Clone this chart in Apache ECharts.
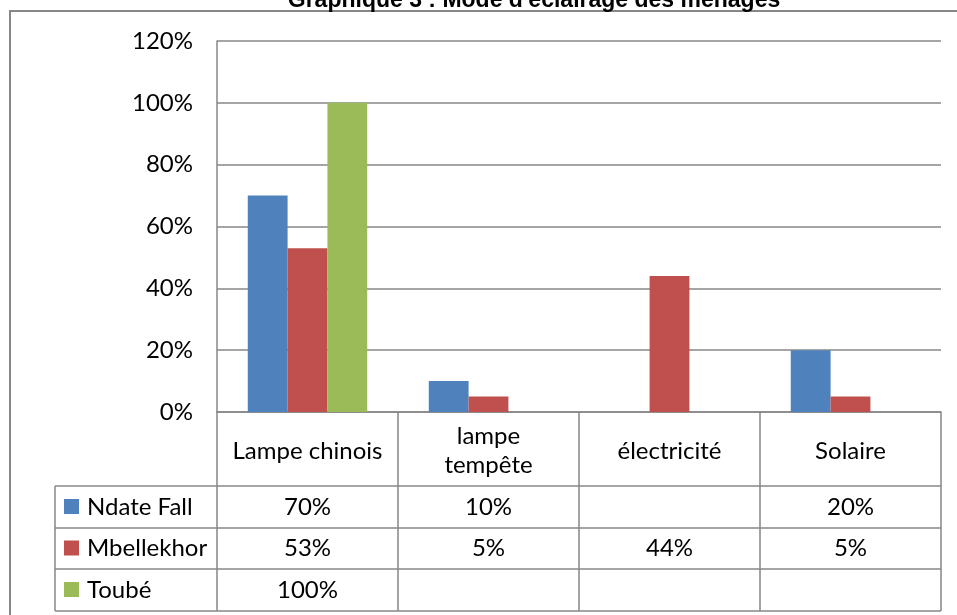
<!DOCTYPE html>
<html>
<head>
<meta charset="utf-8">
<script src="https://cdn.jsdelivr.net/npm/echarts@6/dist/echarts.min.js"></script>
<style>
  html, body { margin: 0; padding: 0; background: #fff; }
  #main { width: 957px; height: 615px; }
</style>
</head>
<body>
<div id="main"></div>
<script>
  // données
  var titre = "Graphique 3 : Mode d'éclairage des ménages";
  var categories = ["Lampe chinois", "lampe tempête", "électricité", "Solaire"];
  var villages = ["Ndate Fall", "Mbellekhor", "Toubé"];
  var ndateFall = [0.70, 0.10, null, 0.20];
  var mbellekhor = [0.53, 0.05, 0.44, 0.05];
  var toube = [1.00, null, null, null];
  var couleurs = ["#4F81BD", "#C0504D", "#9BBB59"];

  var police = "Lato";
  var taille = 24;
  var gris = "#878787";

  // zone du graphique + tableau de données en dessous
  var plotLeft = 217, plotRight = 941, plotTop = 41, plotBottom = 412;
  var tableLeft = 55;
  var rowLines = [486, 528, 569, 611];

  function pct(v) {
    return Math.round(v * 100) + "%";
  }

  var myChart = echarts.init(document.getElementById("main"));
  var donnees = [ndateFall, mbellekhor, toube];

  var series = villages.map(function (nom, k) {
    return {
      name: nom,
      type: "bar",
      data: donnees[k],
      barGap: "0%",
      barCategoryGap: "34%",
      itemStyle: { color: couleurs[k] },
      animation: false
    };
  });

  var option = {
    animation: false,
    grid: {
      left: plotLeft,
      right: 957 - plotRight,
      top: plotTop,
      bottom: 615 - plotBottom
    },
    xAxis: {
      type: "category",
      data: categories,
      axisLine: { show: true, lineStyle: { color: gris, width: 1.5 } },
      // les graduations servent de traits verticaux du tableau
      axisTick: {
        show: true,
        alignWithLabel: false,
        length: rowLines[3] - plotBottom,
        lineStyle: { color: gris, width: 1.5 }
      },
      axisLabel: {
        interval: 0,
        margin: (rowLines[0] - plotBottom) / 2 + 2,
        verticalAlign: "middle",
        fontFamily: police,
        fontSize: taille,
        lineHeight: 29,
        color: "#000",
        formatter: function (v) {
          return v.replace(" tempête", "\ntempête");
        }
      }
    },
    yAxis: {
      type: "value",
      min: 0,
      max: 1.2,
      interval: 0.2,
      axisLine: { show: true, lineStyle: { color: gris, width: 1.5 } },
      axisTick: { show: false },
      splitLine: { lineStyle: { color: gris, width: 1.5 } },
      axisLabel: {
        margin: 24,
        fontFamily: police,
        fontSize: taille,
        color: "#000",
        formatter: function (v) {
          return pct(v);
        }
      }
    },
    series: series
  };

  myChart.setOption(option);

  var graphic = [];
  // cadre extérieur
  graphic.push({ type: "line", shape: { x1: 9, y1: 11, x2: 957, y2: 11 }, style: { stroke: gris, lineWidth: 2 } });
  graphic.push({ type: "line", shape: { x1: 10, y1: 11, x2: 10, y2: 615 }, style: { stroke: gris, lineWidth: 2 } });
  // titre (coupé en haut)
  graphic.push({
    type: "text",
    x: 534,
    y: 1,
    style: {
      text: titre,
      fontFamily: "Liberation Sans",
      fontWeight: "bold",
      fontSize: 23,
      fill: "#000",
      textAlign: "center",
      textVerticalAlign: "middle"
    }
  });
  // tableau de données sous l'axe
  rowLines.forEach(function (y) {
    graphic.push({ type: "line", shape: { x1: tableLeft, y1: y, x2: plotRight, y2: y }, style: { stroke: gris, lineWidth: 1.5 } });
  });
  graphic.push({ type: "line", shape: { x1: tableLeft, y1: rowLines[0], x2: tableLeft, y2: rowLines[3] }, style: { stroke: gris, lineWidth: 1.5 } });

  var xs = categories.map(function (c, i) {
    return myChart.convertToPixel({ xAxisIndex: 0 }, i);
  });
  donnees.forEach(function (serie, k) {
    var yc = (rowLines[k] + rowLines[k + 1]) / 2;
    // clé de légende
    graphic.push({
      type: "rect",
      shape: { x: 64, y: yc - 8, width: 15, height: 15 },
      style: { fill: couleurs[k] }
    });
    graphic.push({
      type: "text",
      x: 87,
      y: yc,
      style: {
        text: villages[k],
        fontFamily: police,
        fontSize: taille,
        fill: "#000",
        textAlign: "left",
        textVerticalAlign: "middle"
      }
    });
    serie.forEach(function (v, i) {
      if (v == null) return;
      graphic.push({
        type: "text",
        x: xs[i],
        y: yc,
        style: {
          text: pct(v),
          fontFamily: police,
          fontSize: taille,
          fill: "#000",
          textAlign: "center",
          textVerticalAlign: "middle"
        }
      });
    });
  });

  myChart.setOption({ graphic: graphic });
</script>
</body>
</html>
